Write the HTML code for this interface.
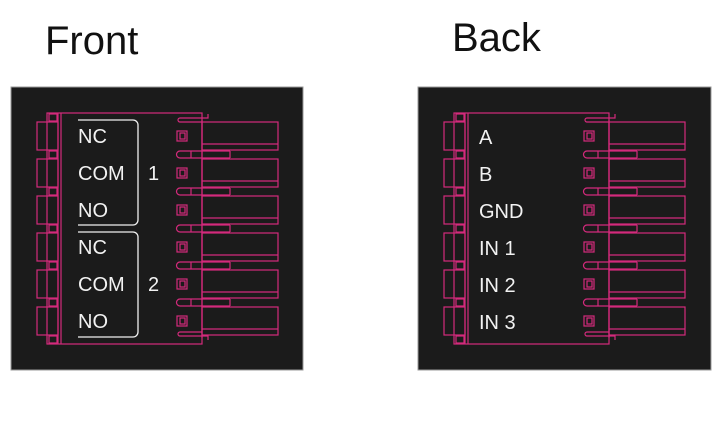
<!DOCTYPE html>
<html><head><style>
html,body{margin:0;padding:0;background:#fff;}
svg{display:block;}
text{font-family:"Liberation Sans",sans-serif;}
</style></head><body>
<svg width="722" height="434" viewBox="0 0 722 434" xmlns="http://www.w3.org/2000/svg">
<defs>
<g id="row" fill="none" stroke="#d42a7c" stroke-width="1.2">
  <rect x="-21" y="-14" width="21" height="28"/>
  <rect x="119" y="-5" width="10" height="10"/>
  <rect x="122" y="-3" width="5" height="6"/>
  <rect x="144" y="-14" width="76" height="28"/>
  <line x1="144" y1="8" x2="220" y2="8"/>
</g>
<g id="gap" fill="none" stroke="#d42a7c" stroke-width="1.2">
  <rect x="-9" y="15" width="8" height="7"/>
  <path d="M122,15 h50 M122,22 h50 M122,15 a3.5,3.5 0 0 0 0,7"/>
  <line x1="172" y1="15" x2="172" y2="22"/>
  <line x1="133" y1="15" x2="133" y2="22"/>
</g>
<g id="conn" fill="none" stroke="#d42a7c" stroke-width="1.2">
  <rect x="-11" y="-23" width="155" height="231"/>
  <line x1="0" y1="-23" x2="0" y2="208"/>
  <line x1="3" y1="-23" x2="3" y2="208"/>
  <line x1="144" y1="-16" x2="144" y2="202"/>
  <path d="M122,-18 h28 v-4 M122,-14 h22 M122,-18 a2,2 0 0 0 0,4"/>
  <path d="M122,196 h22 M122,200 h28 v4 M122,196 a2,2 0 0 0 0,4"/>
  <rect x="-9" y="-22" width="8" height="7"/>
  <rect x="-9" y="200" width="8" height="7"/>
  <use href="#row" y="0"/>
  <use href="#row" y="37"/>
  <use href="#row" y="74"/>
  <use href="#row" y="111"/>
  <use href="#row" y="148"/>
  <use href="#row" y="185"/>
  <use href="#gap" y="0"/>
  <use href="#gap" y="37"/>
  <use href="#gap" y="74"/>
  <use href="#gap" y="111"/>
  <use href="#gap" y="148"/>
</g>
</defs>

<text x="45" y="54" font-size="40" fill="#111">Front</text>
<text x="452" y="51" font-size="40" fill="#111">Back</text>

<rect x="11" y="87" width="292" height="283" fill="#1b1b1b" stroke="#999" stroke-width="1"/>
<rect x="418" y="87" width="293" height="283" fill="#1b1b1b" stroke="#999" stroke-width="1"/>

<use href="#conn" x="58" y="136"/>
<use href="#conn" x="465" y="136"/>

<g fill="none" stroke="#f0f0f0" stroke-width="1.3">
  <path d="M78,120 H133 a5,5 0 0 1 5,5 V220 a5,5 0 0 1 -5,5 H78"/>
  <path d="M78,232 H133 a5,5 0 0 1 5,5 V332 a5,5 0 0 1 -5,5 H78"/>
</g>
<g fill="#f2f2f2" font-size="20">
  <text x="78" y="143">NC</text>
  <text x="78" y="180">COM</text>
  <text x="78" y="217">NO</text>
  <text x="78" y="254">NC</text>
  <text x="78" y="291">COM</text>
  <text x="78" y="328">NO</text>
  <text x="148" y="180">1</text>
  <text x="148" y="291">2</text>
  <text x="479" y="144">A</text>
  <text x="479" y="181">B</text>
  <text x="479" y="218">GND</text>
  <text x="479" y="255">IN 1</text>
  <text x="479" y="292">IN 2</text>
  <text x="479" y="329">IN 3</text>
</g>
</svg>
</body></html>
